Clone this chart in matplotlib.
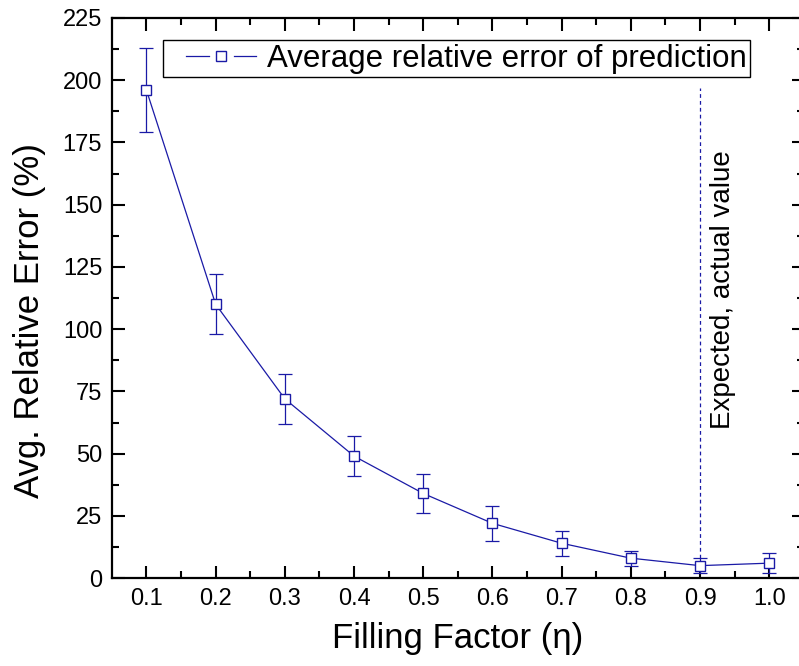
import numpy as np
import matplotlib
matplotlib.use("Agg")
import matplotlib.pyplot as plt
from matplotlib.lines import Line2D
from matplotlib.legend_handler import HandlerBase

plt.rcParams['font.family'] = ['Liberation Sans', 'DejaVu Sans']

# data
filling = [0.1, 0.2, 0.3, 0.4, 0.5, 0.6, 0.7, 0.8, 0.9, 1.0]
avg_err = [196, 110, 72, 49, 34, 22, 14, 8, 5, 6]
err_bar = [17, 12, 10, 8, 8, 7, 5, 3, 3, 4]
expected_x = 0.9
expected_span = [8, 197]

navy = '#1a1aa6'


class GapLineHandler(HandlerBase):
    # origin style legend key: line - square - line, with a small gap round the square
    def create_artists(self, legend, orig_handle, xdescent, ydescent,
                       width, height, fontsize, trans):
        x0 = -xdescent + 14
        x1 = -xdescent + width
        xm = (x0 + x1) / 2
        y = height / 2 - ydescent
        gap = 9
        kw = dict(color=orig_handle.get_color(), lw=orig_handle.get_linewidth(),
                  transform=trans)
        left = Line2D([x0, xm - gap], [y, y], **kw)
        right = Line2D([xm + gap, x1], [y, y], **kw)
        mark = Line2D([xm], [y], ls='none', marker='s', markersize=7,
                      markerfacecolor='white', markeredgecolor=orig_handle.get_color(),
                      markeredgewidth=1.0, transform=trans)
        return [left, right, mark]


fig = plt.figure(figsize=(7.99, 6.66), dpi=100)
ax = fig.add_axes([0.140, 0.132, 0.866, 0.841])

# error bars without legend entry, then the line+markers on top
ax.errorbar(filling, avg_err, yerr=err_bar, fmt='none',
            ecolor=navy, elinewidth=0.9, capsize=4.7, capthick=0.9)
line, = ax.plot(filling, avg_err, color=navy, lw=0.9,
                marker='s', markersize=7, markerfacecolor='white',
                markeredgecolor=navy, markeredgewidth=1.0,
                label='Average relative error of prediction')

# expected value marker line
ax.plot([expected_x, expected_x], expected_span, color=navy, lw=0.9, ls=(0, (3, 2.5)))
ax.text(0.933, 116, 'Expected, actual value', rotation=90, fontsize=20,
        ha='center', va='center')

ax.set_xlim(0.05, 1.05)
ax.set_ylim(0, 225)
ax.set_xticks(filling)
ax.set_xticklabels([f'{v:.1f}' for v in filling])
ax.set_xticks(np.arange(0.15, 1.0, 0.1), minor=True)
ax.set_yticks(np.arange(0, 226, 25))
ax.set_yticks(np.arange(12.5, 225, 25), minor=True)

ax.tick_params(which='both', direction='in', top=True, right=True, width=1.5,
               labelsize=17, pad=7)
ax.tick_params(which='major', length=9)
ax.tick_params(which='minor', length=5)
for s in ax.spines.values():
    s.set_linewidth(1.6)

ax.set_xlabel('Filling Factor (η)', fontsize=25, labelpad=9)
ax.set_ylabel('Avg. Relative Error (%)', fontsize=25)
ax.yaxis.set_label_coords(-0.095, 0.459)

leg = ax.legend(handles=[line], handler_map={line: GapLineHandler()},
                loc='upper left', bbox_to_anchor=(0.074, 0.961), borderaxespad=0,
                fontsize=22.5, handlelength=2.85, handletextpad=0.35,
                fancybox=False, edgecolor='black', framealpha=1,
                borderpad=0.12)
leg.get_frame().set_linewidth(1.0)

fig.savefig('out.png', dpi=100)
